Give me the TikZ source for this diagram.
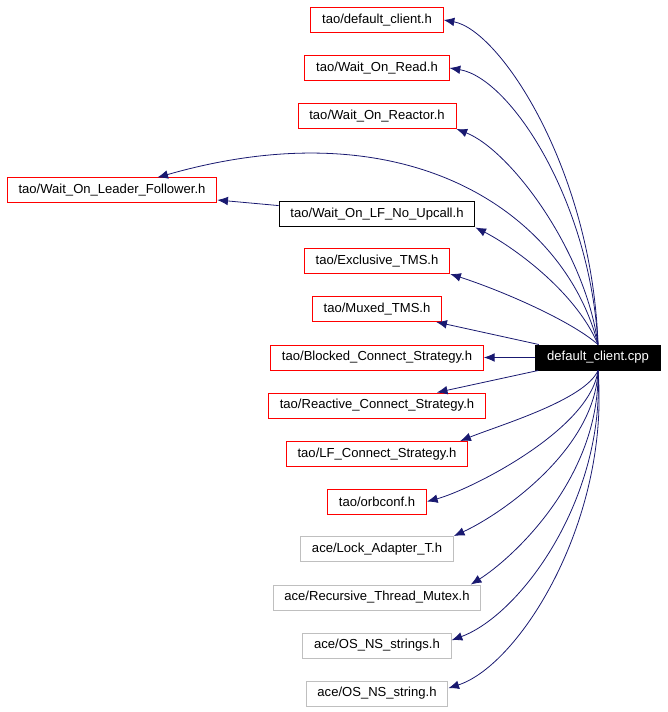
\documentclass[tikz,border=0pt]{standalone}
\usepackage{fontspec}
\setmainfont{Liberation Sans}
\usepackage{xcolor}
\usetikzlibrary{arrows.meta, positioning, calc}
\definecolor{edgeblue}{HTML}{191970}
\definecolor{extgrey}{HTML}{BFBFBF}

\begin{document}
\begin{tikzpicture}[
    x=0.75pt, y=-0.75pt,
    hdr/.style={draw=red, rectangle, minimum height=18.75pt, inner xsep=8.5pt, inner ysep=0pt, line width=0.75pt, font=\fontsize{9.8pt}{11pt}\selectfont},
    plain/.style={hdr, draw=black},
    ext/.style={hdr, draw=extgrey},
    src/.style={hdr, draw=black, fill=black, text=white},
    dep/.style={draw=edgeblue, line width=0.6pt, -{Latex[length=8pt,width=6.5pt]}},
  ]
  \useasboundingbox (0,0) rectangle (667,712);

  % Nodes
  \node[src] (cpp) at (598,357.5) {default\_client.cpp};
  \node[hdr] (dclient) at (377,20) {tao/default\_client.h};
  \node[hdr] (rd) at (377,68) {tao/Wait\_On\_Read.h};
  \node[hdr] (reactor) at (377,116) {tao/Wait\_On\_Reactor.h};
  \node[hdr] (leader) at (112,190.5) {tao/Wait\_On\_Leader\_Follower.h};
  \node[plain] (noupcall) at (377,214.5) {tao/Wait\_On\_LF\_No\_Upcall.h};
  \node[hdr] (excl) at (377,261) {tao/Exclusive\_TMS.h};
  \node[hdr] (muxed) at (377,309) {tao/Muxed\_TMS.h};
  \node[hdr] (blocked) at (377,357.5) {tao/Blocked\_Connect\_Strategy.h};
  \node[hdr] (reactive) at (377,405.5) {tao/Reactive\_Connect\_Strategy.h};
  \node[hdr] (lfconn) at (377,454) {tao/LF\_Connect\_Strategy.h};
  \node[hdr] (orbconf) at (377,501.5) {tao/orbconf.h};
  \node[ext] (lock) at (377,549) {ace/Lock\_Adapter\_T.h};
  \node[ext] (mutex) at (377,597.5) {ace/Recursive\_Thread\_Mutex.h};
  \node[ext] (strings) at (377,645.5) {ace/OS\_NS\_strings.h};
  \node[ext] (str) at (377,693.5) {ace/OS\_NS\_string.h};

  % Connections
  \draw[dep] (cpp.north) .. controls (592,170) and (500,30) .. (dclient.east);
  \draw[dep] (cpp.north) .. controls (590,200) and (510,78) .. (rd.east);
  \draw[dep] (cpp.north) .. controls (585,250) and (510,150) .. (reactor.south east);
  \draw[dep] (cpp.north) .. controls (565,215) and (410,105) .. ([xshift=34pt]leader.north);
  \draw[dep] (cpp.north) .. controls (575,290) and (510,245) .. (noupcall.south east);
  \draw[dep] (noupcall) -- (leader);
  \draw[dep] (cpp.north) .. controls (570,320) and (500,290) .. (excl.south east);
  \draw[dep] (cpp) -- (muxed);
  \draw[dep] (cpp) -- (blocked);
  \draw[dep] (cpp) -- (reactive);
  \draw[dep] (cpp.south) .. controls (585,400) and (500,425) .. ([xshift=-6pt]lfconn.north east);
  \draw[dep] (cpp.south) .. controls (590,430) and (470,490) .. (orbconf.east);
  \draw[dep] (cpp.south) .. controls (595,450) and (500,515) .. (lock.north east);
  \draw[dep] (cpp.south) .. controls (600,480) and (510,560) .. ([xshift=-8pt]mutex.north east);
  \draw[dep] (cpp.south) .. controls (605,500) and (520,615) .. ([yshift=4pt]strings.east);
  \draw[dep] (cpp.south) .. controls (610,520) and (520,665) .. ([yshift=4pt]str.east);
\end{tikzpicture}
\end{document}
